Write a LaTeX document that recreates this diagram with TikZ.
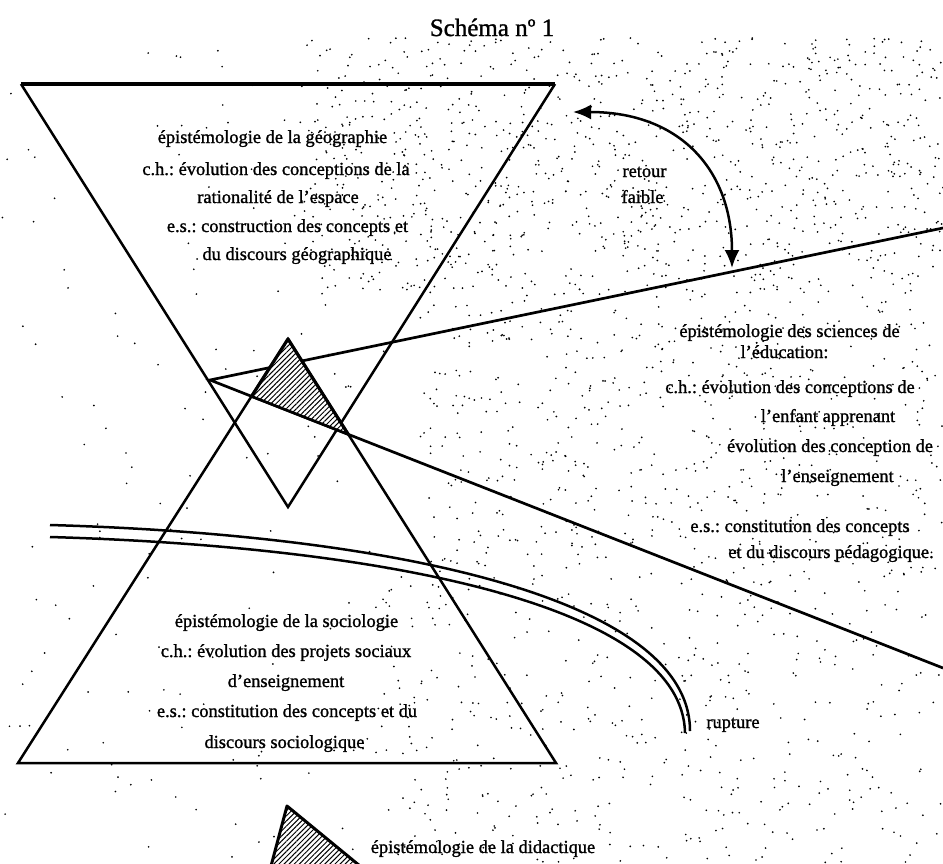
\documentclass[tikz,border=0pt]{standalone}
\usepackage{fontspec}
\setmainfont[FakeBold=1.2]{Liberation Serif}
\usetikzlibrary{arrows.meta,patterns.meta}
\frenchspacing
\begin{document}
\begin{tikzpicture}[x=1pt,y=-1pt,
  edge/.style={line width=2.5pt, line join=miter},
  thickedge/.style={line width=3.6pt},
  txt/.style={font=\fontsize{18.4}{22}\selectfont\frenchspacing, inner sep=0pt, anchor=base},
  speck/.style={fill=black},
  hatchfill/.style={fill=white, postaction={pattern={Lines[angle=45,distance=3.6pt,line width=1pt]}}},
  bigtip/.tip={Latex[length=18pt,width=15pt]}]
\useasboundingbox (0,0) rectangle (943,863);
\fill[white] (0,0) rectangle (943,863);
% stippled background
\pgfmathsetseed{4242}
\foreach \i in {1,...,1000} {\fill[speck] ({300+643*rnd},{38+252*rnd}) circle (0.95pt);}
\foreach \i in {1,...,520} {\fill[speck] ({420+523*rnd},{290+270*rnd}) circle (0.95pt);}
\foreach \i in {1,...,420} {\fill[speck] ({380+563*rnd},{560+303*rnd}) circle (0.95pt);}
\foreach \i in {1,...,330} {\fill[speck] ({943*rnd},{50+813*rnd}) circle (0.95pt);}
% geometry
\coordinate (gTL) at (21,84);
\coordinate (gTR) at (555,84);
\coordinate (gB) at (288,507);
\coordinate (sT) at (288,339);
\coordinate (sBL) at (18,763);
\coordinate (sBR) at (556,763);
\coordinate (eO) at (210,380);
\coordinate (eU) at (943,228);
\coordinate (eL) at (943,668);
% inverted triangle (geography)
\draw[edge] (gTL) -- (gB) -- (gTR);
\draw[thickedge] (gTL) -- (gTR);
% upright triangle (sociology)
\draw[edge] (sBR) -- (sT) -- (sBL) -- cycle;
% wedge (education sciences)
\draw[line width=2.7pt] (eU) -- (eO) -- (eL);
% hatched overlap
\coordinate (hL) at (intersection of sT--sBL and eO--eL);
\coordinate (hR) at (intersection of sT--sBR and eO--eL);
\fill[hatchfill] (sT) -- (hL) -- (hR) -- cycle;
\draw[line width=3.2pt, line join=round] (hL) -- (sT) -- (hR);
\draw[line width=2.7pt] (hL) -- (hR);
% rupture (double curve)
\coordinate (r1s) at (50,525);
\coordinate (r1e) at (690,731);
\coordinate (r2s) at (50,537);
\coordinate (r2e) at (685,733);
\draw[line width=2.5pt] (r1s) .. controls (400,535) and (690,600) .. (r1e);
\draw[line width=2.5pt] (r2s) .. controls (395,547) and (683,608) .. (r2e);
% retour faible arrow
\coordinate (aS) at (573,112);
\coordinate (aE) at (732,268);
\draw[line width=2.5pt, bigtip-bigtip] (aS) .. controls (680,112) and (732,170) .. (aE);
% bottom hatched triangle (didactics)
\coordinate (dT) at (287,806);
\coordinate (dL) at (271,866);
\coordinate (dR) at (360,866);
\begin{scope}
\clip (0,0) rectangle (943,863);
\fill[hatchfill] (dT) -- (dL) -- (dR) -- cycle;
\draw[line width=3pt, line join=round] (dL) -- (dT) -- (dR);
\end{scope}
% texts
\node[font=\fontsize{25}{28}\selectfont, inner sep=0pt, anchor=base] (title) at (492,36) {Schéma nº 1};
\node[txt] (g1) at (272.5,143) {épistémologie de la géographie};
\node[txt] (g2) at (276,175) {c.h.: évolution des conceptions de la};
\node[txt] (g3) at (278,203) {rationalité de l'espace};
\node[txt] (g4) at (287.5,232) {e.s.: construction des concepts et};
\node[txt] (g5) at (297,260) {du discours géographique};
\node[txt] (rt1) at (644.5,177) {retour};
\node[txt] (rt2) at (642.5,203) {faible};
\node[txt] (e1) at (789.5,337) {épistémologie des sciences de};
\node[txt] (e2) at (784.5,358) {l'éducation:};
\node[txt] (e3) at (790,393) {c.h.: évolution des conceptions de};
\node[txt] (e4) at (828,422) {l'enfant apprenant};
\node[txt] (e5) at (830,452) {évolution des conception de};
\node[txt] (e6) at (837.5,482) {l'enseignement};
\node[txt] (e7) at (800,532) {e.s.: constitution des concepts};
\node[txt] (e8) at (831,558) {et du discours pédagogique.};
\node[txt] (s1) at (286.5,627) {épistémologie de la sociologie};
\node[txt] (s2) at (286,657) {c.h.: évolution des projets sociaux};
\node[txt] (s3) at (286,687) {d'enseignement};
\node[txt] (s4) at (287,717) {e.s.: constitution des concepts et du};
\node[txt] (s5) at (284.5,748) {discours sociologique};
\node[txt] (rup) at (733,728) {rupture};
\node[txt] (did) at (483,853) {épistémologie de la didactique};
\end{tikzpicture}
\end{document}
